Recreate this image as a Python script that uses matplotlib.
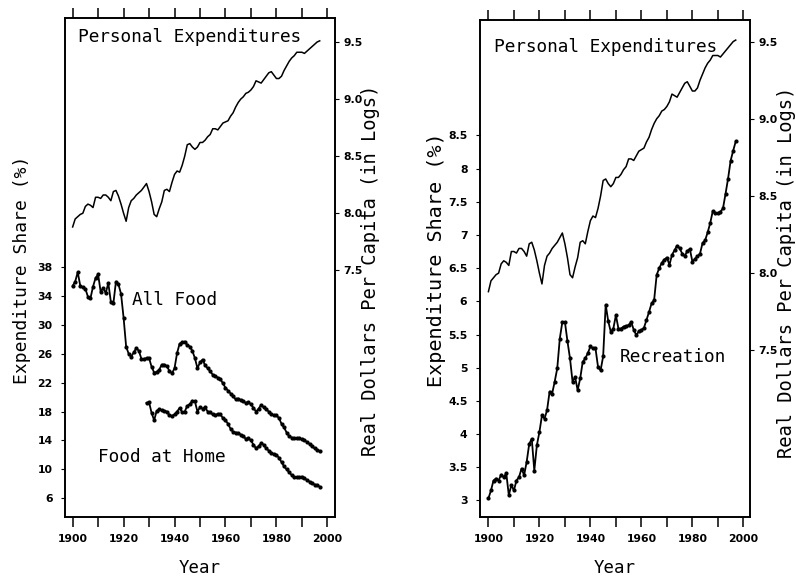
import matplotlib
matplotlib.use("Agg")
import matplotlib.pyplot as plt
import numpy as np
from matplotlib.ticker import FormatStrFormatter

# years 1900-1997
years = np.arange(1900, 1998)

# real personal expenditures per capita (logs)
personal_exp = [
    7.88, 7.95, 7.97, 7.99, 8.00, 8.06, 8.08, 8.07, 8.05, 8.14,
    8.14, 8.13, 8.16, 8.16, 8.14, 8.11, 8.19, 8.20, 8.15, 8.08,
    8.00, 7.93, 8.05, 8.11, 8.13, 8.16, 8.18, 8.20, 8.23, 8.26,
    8.19, 8.10, 7.99, 7.97, 8.04, 8.10, 8.20, 8.21, 8.19, 8.27,
    8.34, 8.37, 8.36, 8.42, 8.50, 8.60, 8.61, 8.58, 8.56, 8.58,
    8.62, 8.62, 8.64, 8.67, 8.69, 8.74, 8.74, 8.73, 8.76, 8.79,
    8.80, 8.81, 8.85, 8.88, 8.93, 8.97, 9.00, 9.02, 9.05, 9.06,
    9.08, 9.11, 9.16, 9.15, 9.14, 9.17, 9.20, 9.23, 9.24, 9.21,
    9.18, 9.18, 9.20, 9.25, 9.29, 9.33, 9.36, 9.38, 9.41, 9.41,
    9.41, 9.40, 9.42, 9.44, 9.46, 9.48, 9.50, 9.51,
]

# all food share (%)
all_food = [
    35.4, 36.0, 37.3, 35.4, 35.2, 35.0, 33.9, 33.7, 35.3, 36.5,
    37.0, 34.6, 35.1, 34.4, 35.8, 33.2, 33.0, 36.0, 35.6, 34.3,
    31.0, 27.0, 26.0, 25.6, 26.2, 26.8, 26.4, 25.3, 25.3, 25.4,
    25.4, 24.2, 23.4, 23.5, 23.8, 24.5, 24.5, 24.3, 23.6, 23.3,
    24.0, 26.1, 27.4, 27.6, 27.7, 27.2, 27.0, 26.4, 25.4, 24.0,
    24.8, 25.2, 24.4, 24.0, 23.6, 23.1, 22.9, 22.7, 22.5, 21.9,
    21.3, 20.9, 20.5, 20.1, 19.7, 19.8, 19.6, 19.4, 19.2, 19.3,
    19.0, 18.5, 18.0, 18.4, 18.9, 18.6, 18.3, 18.0, 17.6, 17.5,
    17.5, 17.1, 16.3, 15.8, 15.1, 14.6, 14.4, 14.3, 14.3, 14.3,
    14.2, 14.0, 13.8, 13.5, 13.2, 12.9, 12.7, 12.5,
]

# food at home share (%), 1929-1997
home_years = np.arange(1929, 1998)
food_home = [
    19.2, 19.3, 17.8, 16.8, 18.1, 18.3, 18.2, 18.1, 18.0, 17.5,
    17.4, 17.6, 18.0, 18.5, 17.9, 18.0, 18.8, 19.0, 19.5, 19.4,
    18.0, 18.6, 18.4, 18.6, 18.0, 17.9, 17.6, 17.5, 17.7, 17.6,
    17.1, 16.8, 16.3, 15.6, 15.2, 15.1, 15.0, 14.8, 14.6, 14.2,
    14.3, 14.0, 13.4, 12.9, 13.2, 13.6, 13.4, 12.9, 12.6, 12.3,
    12.1, 12.0, 11.6, 11.0, 10.4, 10.0, 9.6, 9.2, 8.9, 8.9,
    8.9, 9.0, 8.8, 8.5, 8.3, 8.1, 7.9, 7.8, 7.6,
]

# recreation share (%)
recreation = [
    3.03, 3.15, 3.30, 3.33, 3.30, 3.39, 3.35, 3.41, 3.08, 3.23,
    3.15, 3.30, 3.35, 3.48, 3.38, 3.58, 3.85, 3.93, 3.45, 3.83,
    4.03, 4.28, 4.23, 4.36, 4.64, 4.61, 4.79, 4.99, 5.44, 5.69,
    5.69, 5.40, 5.14, 4.79, 4.86, 4.66, 4.84, 5.09, 5.14, 5.22,
    5.32, 5.29, 5.29, 5.01, 4.96, 5.17, 5.95, 5.70, 5.54, 5.59,
    5.79, 5.59, 5.59, 5.62, 5.63, 5.64, 5.69, 5.57, 5.49, 5.55,
    5.57, 5.60, 5.72, 5.84, 5.97, 6.02, 6.40, 6.50, 6.58, 6.63,
    6.66, 6.55, 6.70, 6.77, 6.84, 6.80, 6.72, 6.68, 6.76, 6.79,
    6.60, 6.64, 6.68, 6.72, 6.88, 6.92, 7.04, 7.18, 7.36, 7.33,
    7.33, 7.35, 7.40, 7.62, 7.85, 8.12, 8.27, 8.41,
]

year_ticks = np.arange(1900, 2001, 20)
food_ticks = np.arange(6, 39, 4)
rec_ticks = np.arange(3, 8.6, 0.5)
log_ticks = np.arange(7.5, 9.6, 0.5)

W, H = 796, 578
mono = "DejaVu Sans Mono"

fig = plt.figure(figsize=(W / 100, H / 100), dpi=100)


def style_axes(ax, ax2):
    for a in (ax, ax2):
        for sp in a.spines.values():
            sp.set_linewidth(1.2)
    ax.set_xticks(np.arange(1900, 2001, 10))
    ax.set_xticklabels([str(y) if y in year_ticks else "" for y in np.arange(1900, 2001, 10)])
    ax.xaxis.set_ticks_position("both")
    ax.tick_params(axis="x", direction="out", length=7.5, width=1.1,
                   top=True, bottom=True, pad=4.5)
    ax.tick_params(axis="y", direction="out", length=3, width=0.8, pad=6)
    ax2.tick_params(axis="y", direction="out", length=3, width=0.8, pad=3)
    for lab in ax.get_xticklabels() + ax.get_yticklabels() + ax2.get_yticklabels():
        lab.set_fontfamily("DejaVu Sans")
        lab.set_fontweight("bold")
        lab.set_fontsize(7.8)


# ---------- left panel: food ----------
ax1 = fig.add_axes([65 / W, 1 - 517 / H, 270 / W, 499 / H])
ax1r = ax1.twinx()
ax1.plot(years, all_food, color="black", lw=1.3, marker="o", ms=2)
ax1.plot(home_years, food_home, color="black", lw=1.3, marker="o", ms=2)
ax1r.plot(years, personal_exp, color="black", lw=1.1)
ax1.set_xlim(1897, 2003)
ax1.set_ylim(3.4, 72.5)
ax1r.set_ylim(5.34, 9.71)
ax1.set_yticks(food_ticks)
ax1r.set_yticks(log_ticks)
ax1r.yaxis.set_major_formatter(FormatStrFormatter("%.1f"))
style_axes(ax1, ax1r)
ax1.text(1902, 69.9, "Personal Expenditures", family=mono, fontsize=12.8,
         ha="left", va="center")
ax1.text(1923.2, 33.5, "All Food", family=mono, fontsize=12.8, ha="left", va="center")
ax1.text(1909.8, 11.7, "Food at Home", family=mono, fontsize=12.8, ha="left", va="center")

# ---------- right panel: recreation ----------
ax2 = fig.add_axes([480 / W, 1 - 517 / H, 270 / W, 497 / H])
ax2r = ax2.twinx()
ax2.plot(years, recreation, color="black", lw=1.3, marker="o", ms=2)
ax2r.plot(years, personal_exp, color="black", lw=1.1)
ax2.set_xlim(1896.7, 2002.6)
ax2.set_ylim(2.75, 10.24)
ax2r.set_ylim(6.42, 9.64)
ax2.set_yticks(rec_ticks)
ax2.yaxis.set_major_formatter(FormatStrFormatter("%g"))
ax2r.set_yticks(log_ticks)
ax2r.yaxis.set_major_formatter(FormatStrFormatter("%.1f"))
style_axes(ax2, ax2r)
ax2.text(1902.2, 9.83, "Personal Expenditures", family=mono, fontsize=12.8,
         ha="left", va="center")
ax2.text(1951.6, 5.16, "Recreation", family=mono, fontsize=12.8, ha="left", va="center")

# axis titles
fig.text(22 / W, 1 - 270 / H, "Expenditure Share (%)", family=mono, fontsize=13,
         rotation=90, ha="center", va="center")
fig.text(371 / W, 1 - 270 / H, "Real Dollars Per Capita (in Logs)", family=mono,
         fontsize=13.5, rotation=90, ha="center", va="center")
fig.text(200 / W, 1 - 568 / H, "Year", family=mono, fontsize=12.5, ha="center", va="center")

fig.text(437 / W, 1 - 260 / H, "Expenditure Share (%)", family=mono, fontsize=14.5,
         rotation=90, ha="center", va="center")
fig.text(787 / W, 1 - 272 / H, "Real Dollars Per Capita (in Logs)", family=mono,
         fontsize=13.5, rotation=90, ha="center", va="center")
fig.text(615 / W, 1 - 568 / H, "Year", family=mono, fontsize=12.5, ha="center", va="center")

fig.savefig("out.png", dpi=100)
